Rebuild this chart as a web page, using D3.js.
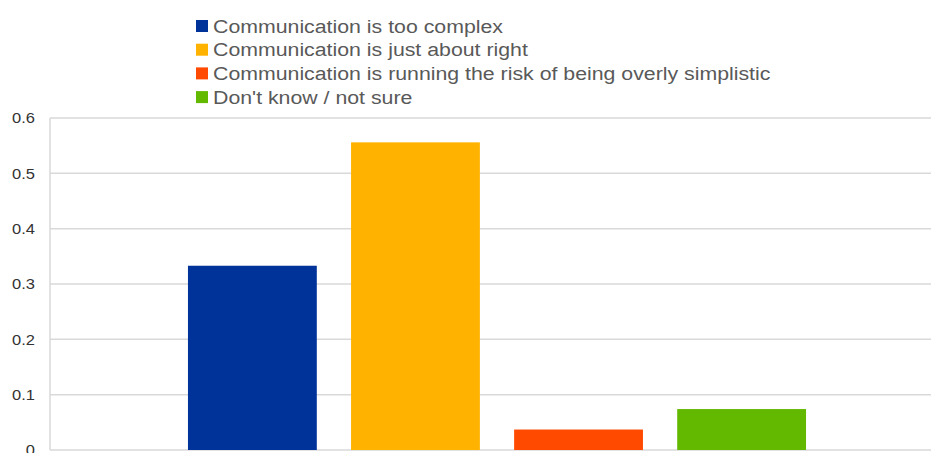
<!DOCTYPE html>
<html><head><meta charset="utf-8">
<script src="https://cdn.jsdelivr.net/npm/d3@7"></script>
<style>html,body{margin:0;padding:0;background:#fff;overflow:hidden}</style>
</head><body>
<svg id="chart" width="931" height="453"></svg>
<script>
const seriesNames = [
  "Communication is too complex",
  "Communication is just about right",
  "Communication is running the risk of being overly simplistic",
  "Don't know / not sure"
];
const seriesValues = [0.333, 0.556, 0.037, 0.074];
const seriesColors = ["#003399", "#ffb300", "#ff4a00", "#63b800"];
const yTicks = [0, 0.1, 0.2, 0.3, 0.4, 0.5, 0.6];

const svg = d3.select("#chart");
const plot = {left: 50, right: 944, top: 118, bottom: 450};
const font = "Liberation Sans, Arial, sans-serif";

const y = d3.scaleLinear().domain([0, 0.6]).range([plot.bottom, plot.top]);
const x = d3.scaleBand().domain(seriesNames).range([plot.left, plot.right])
  .paddingInner(0.21).paddingOuter(0.846);

// gridlines
svg.append("g").selectAll("line").data(yTicks).join("line")
  .attr("x1", plot.left).attr("x2", plot.right)
  .attr("y1", d => y(d)).attr("y2", d => y(d))
  .attr("stroke", "#d9d9d9").attr("stroke-width", 1.5);

// left axis line
svg.append("line").attr("x1", plot.left).attr("x2", plot.left)
  .attr("y1", plot.top).attr("y2", plot.bottom)
  .attr("stroke", "#d9d9d9").attr("stroke-width", 1.5);

// y axis labels
const yAxis = d3.axisLeft(y).tickValues(yTicks).tickSize(0).tickPadding(15)
  .tickFormat(d => d === 0 ? "0" : d3.format(".1f")(d));
const ga = svg.append("g").attr("transform", `translate(${plot.left},0)`).call(yAxis);
ga.select(".domain").remove();
ga.selectAll("text").attr("font-family", font)
  .attr("font-size", 15).attr("fill", "#333")
  .each(function() {
    const w = this.getComputedTextLength();
    d3.select(this).attr("textLength", w * 1.1).attr("lengthAdjust", "spacingAndGlyphs");
  });

// bars
svg.append("g").selectAll("rect").data(seriesNames).join("rect")
  .attr("x", d => x(d)).attr("width", x.bandwidth())
  .attr("y", (d, i) => y(seriesValues[i]))
  .attr("height", (d, i) => y(0) - y(seriesValues[i]))
  .attr("fill", (d, i) => seriesColors[i]);

// legend
const lg = svg.append("g").attr("transform", "translate(196,20)");
const items = lg.selectAll("g").data(seriesNames).join("g")
  .attr("transform", (d, i) => `translate(0,${i * 23.7})`);
items.append("rect").attr("width", 12).attr("height", 12)
  .attr("fill", (d, i) => seriesColors[i]);
items.append("text").attr("x", 17).attr("y", 12.5)
  .attr("font-family", font)
  .attr("font-size", 18).attr("fill", "#595959").text(d => d)
  .each(function() {
    const w = this.getComputedTextLength();
    d3.select(this).attr("textLength", w * 1.183).attr("lengthAdjust", "spacingAndGlyphs");
  });
</script>
</body></html>
